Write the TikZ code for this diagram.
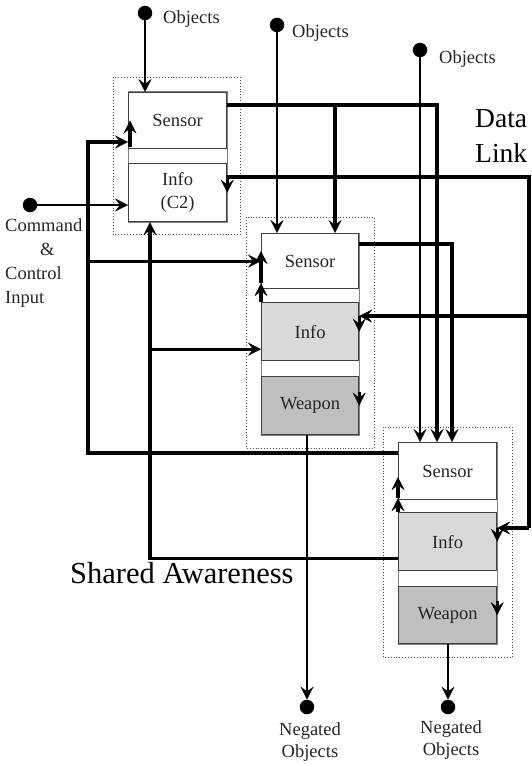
\documentclass[tikz,border=0pt]{standalone}
\usepackage{fontspec}
\setmainfont{Liberation Serif}
\usetikzlibrary{calc,arrows.meta,backgrounds}
\begin{document}
\begin{tikzpicture}[x=1pt,y=-1pt,
  every node/.style={inner sep=0pt},
  boxnode/.style={draw=black!75, line width=1.2pt, minimum width=98pt, anchor=north west, font=\fontsize{18.5}{23}\selectfont, align=center, text=black!85},
  frame/.style={draw=black!70, dotted, line width=0.9pt},
  col/.style={draw=black!50, line width=1pt},
  dot/.style={circle, fill=black, minimum size=14.5pt},
  lbl/.style={font=\fontsize{18.5}{22}\selectfont, anchor=base west, align=left, text=black!85},
  big/.style={font=\fontsize{30.5}{35}\selectfont, align=left},
  thn/.style={line width=1.4pt},
  thk/.style={line width=3.2pt},
  arr/.style={-{Stealth[length=13pt,width=13pt,inset=5pt,line width=0.3pt]}},
]
\useasboundingbox (0,0) rectangle (532,765);

% boxes
\node[boxnode, minimum height=56pt] (s1) at (128,92) {Sensor};
\node[boxnode, minimum height=58pt] (i1) at (128,163) {Info\\(C2)};
\node[boxnode, minimum width=97pt, minimum height=55pt] (s2) at (261,233) {Sensor};
\node[boxnode, minimum width=97pt, minimum height=58pt, fill=black!15] (i2) at (261,302) {Info};
\node[boxnode, minimum width=97pt, minimum height=58pt, fill=black!25] (w2) at (261,376) {Weapon};
\node[boxnode, minimum height=57pt] (s3) at (398,442) {Sensor};
\node[boxnode, minimum height=58pt, fill=black!15] (i3) at (398,512) {Info};
\node[boxnode, minimum height=57pt, fill=black!25] (w3) at (398,586) {Weapon};

\begin{scope}[on background layer]
  \draw[col] (s1.north west) rectangle (i1.south east);
  \draw[col] (s2.north west) rectangle (w2.south east);
  \draw[col] (s3.north west) rectangle (w3.south east);
\end{scope}

% dotted frames
\draw[frame] ($(s1.north west)+(-15,-15)$) rectangle ($(i1.south east)+(13,12)$);
\draw[frame] ($(s2.north west)+(-15,-16)$) rectangle ($(w2.south east)+(15,13)$);
\draw[frame] ($(s3.north west)+(-15,-15)$) rectangle ($(w3.south east)+(15,13)$);

% dots
\node[dot] (o1) at (145,13) {};
\node[dot] (o2) at (277,25) {};
\node[dot] (o3) at (420,50) {};
\node[dot] (cmd) at (30,205) {};
\node[dot] (n1) at (307,707) {};
\node[dot] (n2) at (448,707) {};

% labels
\node[lbl] (lo1) at (163,24) {Objects};
\node[lbl] (lo2) at (292,38) {Objects};
\node[lbl] (lo3) at (439,64) {Objects};
\node[lbl, anchor=north west, font=\fontsize{18.5}{24.3}\selectfont] (lcmd) at (5,218) {Command\\\hspace*{35pt}\&\\Control\\Input};
\node[lbl, anchor=north, align=center] (ln1) at (310,722) {Negated\\Objects};
\node[lbl, anchor=north, align=center] (ln2) at (451,720) {Negated\\Objects};
\node[big, anchor=north west, font=\fontsize{27.5}{35}\selectfont] (ldl) at (475,109) {Data\\Link};
\node[big, anchor=base west] (lsa) at (70,583) {Shared Awareness};

% thin connectors
\draw[thn,arr] (o1) -- (o1 |- s1.north);
\draw[thn,arr] (o2) -- (o2 |- s2.north);
\draw[thn,arr] (o3) -- (o3 |- s3.north);
\draw[thn,arr] (cmd) -- (cmd -| i1.west);
\draw[thn,arr] (n1 |- w2.south) -- (n1);
\draw[thn,arr] (n2 |- w3.south) -- (n2);

% sensor outputs
\coordinate (s1o) at ($(s1.north east)+(0,13)$);
\coordinate (d13) at ($(s3.north west)+(39,0)$);
\coordinate (d12) at ($(s2.north west)+(74,0)$);
\draw[thk,arr] (s1o) -| (d13);
\draw[thk,arr] (s1o -| d12) -- (d12);
\coordinate (s2o) at ($(s2.north east)+(0,11)$);
\coordinate (d23) at ($(s3.north west)+(54,0)$);
\draw[thk,arr] (s2o) -| (d23);

% data link
\coordinate (dl) at (529,177);
\coordinate (i2in) at ($(i2.north east)+(0,14)$);
\coordinate (i3in) at ($(i3.north east)+(0,16)$);
\draw[thk,arr] (dl |- i3in) -- (dl) -- (dl -| i1.east) -- (i1.east);
\draw[thk,arr] (dl |- i3in) -- (i3in);
\draw[thk,arr] (dl |- i2in) -- (i2in);
\draw[thk,arr] (i2in) -- (i2.east);
\draw[thk,arr] (i3in) -- (i3.east);
\draw[thk,arr] ($(w2.east)+(0,-14)$) -- (w2.east);
\draw[thk,arr] ($(w3.east)+(0,-14)$) -- (w3.east);

% shared awareness
\coordinate (s3o) at ($(s3.north west)+(0,11)$);
\coordinate (L) at (88,142);
\draw[thk,arr] (s3o) -| (L) -- (L -| s1.west);
\draw[thk,arr] (L |- s2.west) -- (s2.west);
\coordinate (i3o) at ($(i3.south west)+(0,-13)$);
\coordinate (M) at ($(i1.south west)+(22,0)$);
\draw[thk,arr] (i3o) -| (M);
\coordinate (i2l) at ($(i2.south west)+(0,-12)$);
\draw[thk,arr] (M |- i2l) -- (i2l);

% internal upward flows
\draw[thk,arr] ($(s1.south west)+(2,-2)$) -- ($(s1.west)+(2,0)$);
\draw[thk,arr] (i2.north west) -- ($(s2.south west)+(0,-6)$);
\draw[thk,arr] ($(s2.south west)+(0,-6)$) -- ($(s2.west)+(0,-10)$);
\draw[thk,arr] (i3.north west) -- ($(s3.south west)+(0,-2)$);
\draw[thk,arr] ($(s3.south west)+(0,-2)$) -- ($(s3.west)+(0,6)$);
\end{tikzpicture}
\end{document}
